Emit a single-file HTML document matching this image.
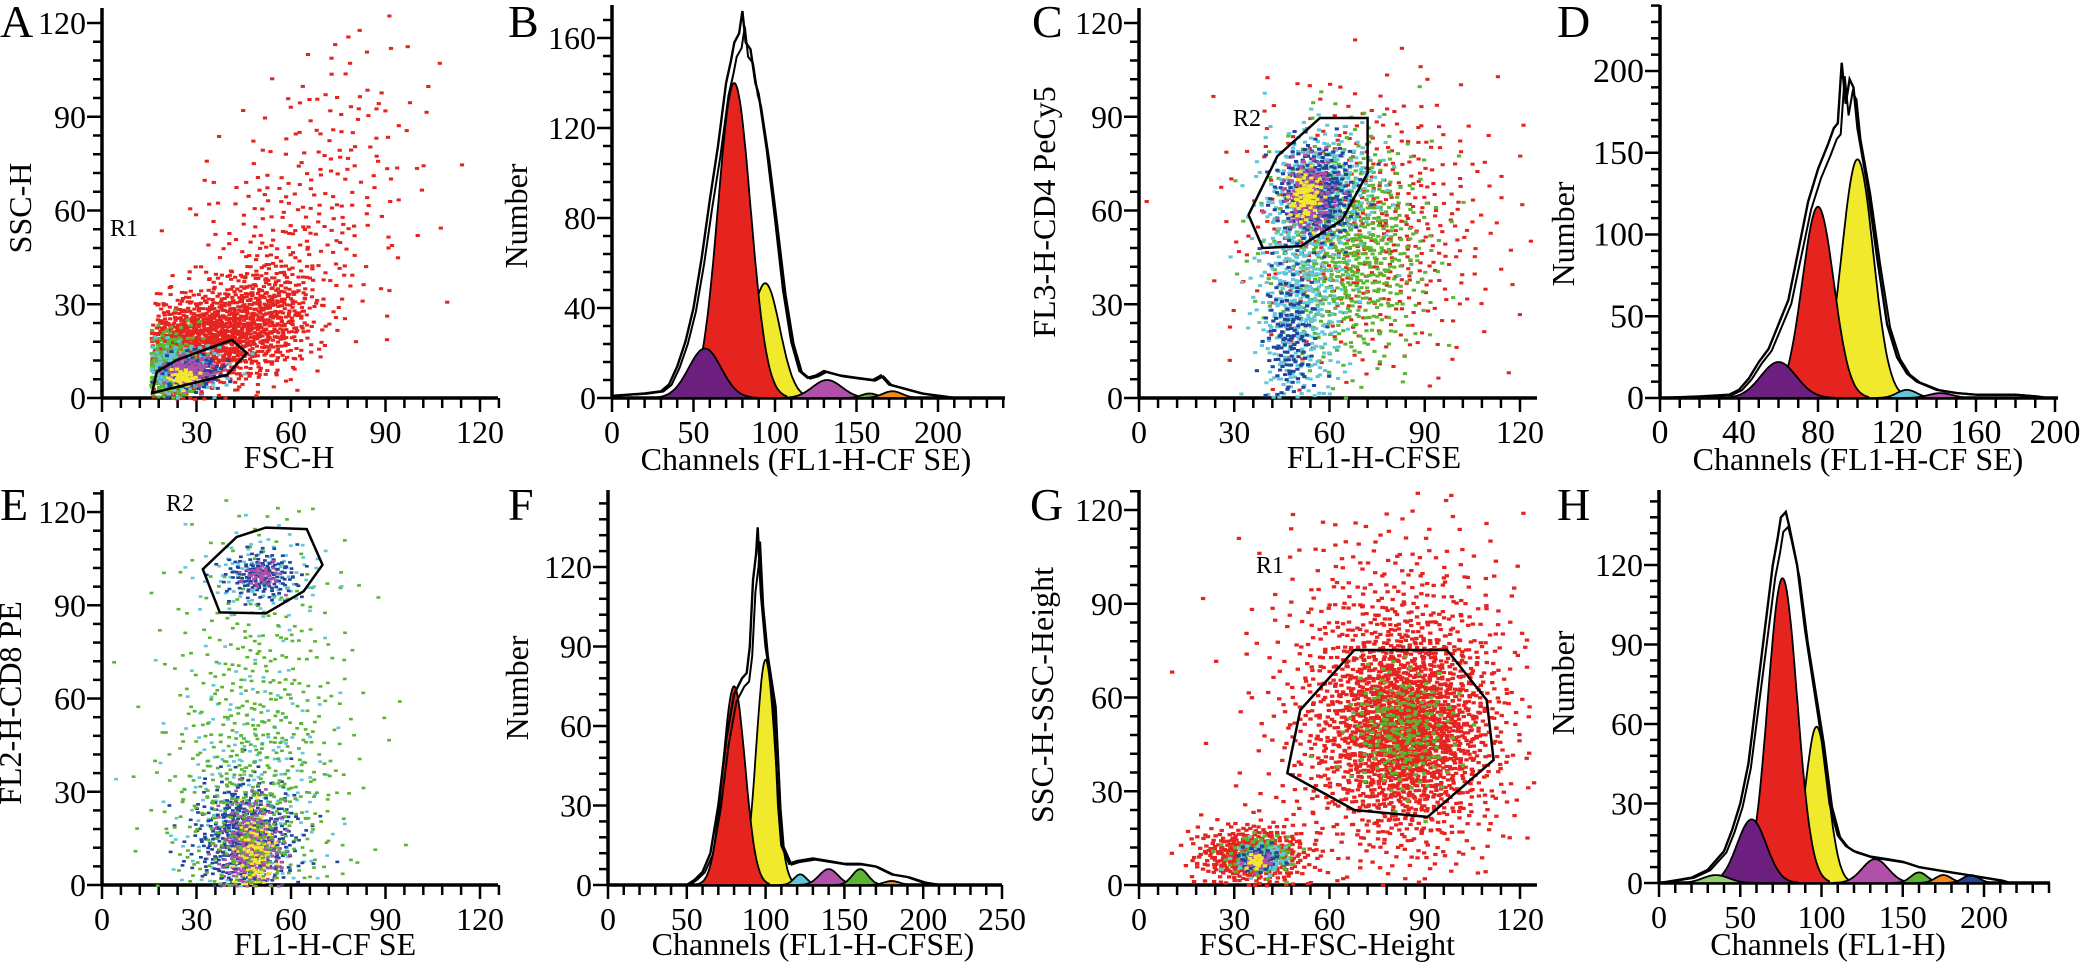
<!DOCTYPE html>
<html><head><meta charset="utf-8">
<style>
html,body{margin:0;padding:0;background:#fff;}
svg{display:block;font-family:"Liberation Serif","DejaVu Serif",serif;}
</style></head>
<body>
<svg id="fig" width="2081" height="965" viewBox="0 0 2081 965" xmlns="http://www.w3.org/2000/svg"></svg>
<script>
// ===== Panel A (scatter FSC-H vs SSC-H) =====
const A_cx=[22,36,52,60,78,21,24,28,27,26,25];
const A_cy=[14,20,27,50,85,10,10,9,9,8,7];
const A_sx=[5,9,8,16,14,5,7,5,4,3,2.5];
const A_sy=[8,8,9,18,20,6,4,3,2.5,2,1.5];
const A_n=[450,650,400,200,90,350,180,130,80,50,40];
const A_col=["red","red","red","red","red","green","cyan","blue","magenta","magenta","yellow"];
const A_gateX=[15.9,17.4,23.8,41.2,46,39.7,22.5];
const A_gateY=[1.6,8.4,12.2,18.6,14.4,7.4,3.2];
// ===== Panel B (histogram) =====
const B_outX=[0,20,30,35,40,45,50,55,60,65,70,73,75,78,80,82,85,88,90,95,100,105,110,115,120,125,130,135,140,150,160,165,170,180,190,200,210];
const B_outY=[1,2,3,6,14,25,40,62,88,112,140,150,158,162,172,158,155,140,135,110,80,48,25,12,9,10,12,11,10,9,8,10,6,4,2,1,0];
const B_center=[94,75,57,132,158,172];
const B_peak=[51,140,22,8,2,3];
const B_width=[9,10,10,9,5,6];
const B_color=["yellow","red","purple","magenta","green","orange"];
// ===== Panel C (scatter FL1 vs FL3) =====
const C_cx=[72,66,50,47,58,55,53,52];
const C_cy=[55,48,33,20,68,66,65,65];
const C_sx=[20,12,7,4,9,6,4,2.5];
const C_sy=[22,18,20,12,9,8,6,4];
const C_n=[500,650,450,150,300,300,160,80];
const C_col=["red","green","cyan","blue","cyan","blue","magenta","yellow"];
const C_gateX=[57,72,72,64,51,39,34.5,43.6];
const C_gateY=[89.6,89.6,72,57,48.6,48,58.6,77.4];
// ===== Panel D (histogram) =====
const D_outX=[0,20,35,40,45,50,55,60,65,70,75,80,85,88,90,92,94,96,98,100,105,110,115,120,125,130,140,150,160,180,190,195];
const D_outY=[0,1,2,5,12,22,30,45,60,90,120,140,155,165,168,205,180,195,190,165,130,85,45,25,15,10,5,3,2,2,1,0];
const D_center=[100,80,60,125,142];
const D_peak=[146,117,22,5,3];
const D_width=[8,8,9,5,6];
const D_color=["yellow","red","purple","cyan","magenta"];
// ===== Panel E (scatter FL1 vs FL2) =====
const E_cx=[46,45,47,48,50,50,50,50,45];
const E_cy=[25,15,12,10,50,100,100,100,20];
const E_sx=[12,8,5,3,15,10,6,3,14];
const E_sy=[25,9,8,7,35,7,4,2,18];
const E_n=[300,550,260,110,450,110,150,40,200];
const E_col=["cyan","blue","magenta","yellow","green","cyan","blue","magenta","green"];
const E_gateX=[42.8,52,65,70,64,52,37.4,32];
const E_gateY=[112,115,114.5,103,94.5,87.4,87.7,101.6];
// ===== Panel F (histogram) =====
const F_outX=[50,55,60,65,70,75,80,85,88,90,92,94,95,97,100,105,108,110,115,120,130,140,150,160,170,180,190,200,210];
const F_outY=[0,2,5,12,30,55,72,78,80,90,115,125,135,110,90,70,30,15,8,9,10,9,8,8,7,4,3,1,0];
const F_center=[100,80,122,140,160,180];
const F_peak=[85,75,4,6,6,1.5];
const F_width=[6,7,4,6,5,5];
const F_color=["yellow","red","cyan","magenta","green","orange"];
// ===== Panel G (scatter FSC vs SSC) =====
const G_cx=[80,84,82,35,38,38,37,37,36];
const G_cy=[58,50,50,10,10,9,9,8,8];
const G_sx=[20,13,8,9,5,4,3,2,1.5];
const G_sy=[28,16,10,5,3,2.5,2,1.5,1.2];
const G_n=[1000,1400,200,450,130,80,60,30,20];
const G_col=["red","red","green","red","green","cyan","blue","magenta","yellow"];
const G_gateX=[67.8,97,109.5,111.7,90.9,67.8,46.7,50.8];
const G_gateY=[75.2,75.2,59.2,40,21.8,24,35.8,56];
// ===== Panel H (histogram) =====
const H_outX=[0,10,20,30,40,45,50,55,60,65,70,73,75,78,80,85,90,95,100,105,110,115,120,130,140,150,160,170,180,190,200,210,215];
const H_outY=[0,1,2,5,12,20,30,45,70,95,120,130,138,140,135,120,95,75,55,30,18,14,12,10,9,8,6,5,4,3,2,1,0];
const H_center=[97,76,57,35,133,160,175,192];
const H_peak=[59,115,24,3,9,4,3,3];
const H_width=[7,9,9,8,8,5,5,5];
const H_color=["yellow","red","purple","lightgreen","magenta","green","orange","blue"];

const PAL={red:"#e52420",yellow:"#f1e92c",purple:"#6d1f7f",magenta:"#b050a8",cyan:"#60c6d8",green:"#5cb531",orange:"#f08a20",blue:"#21449e",lightgreen:"#93d16f"};
const NS="http://www.w3.org/2000/svg";
const svg=document.getElementById("fig");
function el(tag,attrs,parent){const e=document.createElementNS(NS,tag);for(const k in attrs)e.setAttribute(k,attrs[k]);(parent||svg).appendChild(e);return e;}
function lin(d0,p0,per){return v=>p0+(v-d0)*per;}

function axes(g,cfg){
  const X=lin(0,cfg.x0,cfg.xPer), Y=v=>cfg.y0-v*cfg.yPer;
  const fs=cfg.fs||32;
  let ax=el("line",{x1:cfg.x0,y1:cfg.y0,x2:cfg.xEnd,y2:cfg.y0,stroke:"#000","stroke-width":3.5},g);
  
  
  let ay=el("line",{x1:cfg.x0,y1:cfg.y0+1,x2:cfg.x0,y2:cfg.yTop,stroke:"#000","stroke-width":3.5},g);
  
  
  for(let v=0;X(v)<=cfg.xEnd+1;v+=cfg.xMinor){
    const major=cfg.xTicks.some(t=>Math.abs(t-v)<1e-6);
    let t=el("line",{x1:X(v),y1:cfg.y0,x2:X(v),y2:cfg.y0+(major?14:10),stroke:"#000","stroke-width":2.5},g);
    
    
  }
  for(let v=0;Y(v)>=cfg.yTop-1;v+=cfg.yMinor){
    const major=cfg.yTicks.some(t=>Math.abs(t-v)<1e-6);
    let t=el("line",{x1:cfg.x0,y1:Y(v),x2:cfg.x0-(major?15:9),y2:Y(v),stroke:"#000","stroke-width":2.5},g);
    
    
  }
  cfg.xTicks.forEach(v=>{
    let t=el("text",{x:X(v),y:cfg.y0+45,"font-size":fs,"text-anchor":"middle"},g);t.textContent=v;
    
    
  });
  cfg.yTicks.forEach(v=>{
    let t=el("text",{x:cfg.x0-16,y:Y(v)+11,"font-size":fs,"text-anchor":"end"},g);t.textContent=v;
    
    
  });
  let xt=el("text",{x:cfg.xtX,y:cfg.xtY,"font-size":32,"text-anchor":"middle"},g);xt.textContent=cfg.xTitle;
  
  
  let yt=el("text",{x:0,y:0,"font-size":32,"text-anchor":"middle",transform:`translate(${cfg.ytX+11},${cfg.ytY}) rotate(-90)`},g);yt.textContent=cfg.yTitle;
  
  
  let pl=el("text",{x:cfg.lx,y:cfg.ly,"font-size":46},g);pl.textContent=cfg.letter;
  
  
  return {X,Y};
}
function halton(i,b){let f=1,r=0;while(i>0){f/=b;r+=f*(i%b);i=Math.floor(i/b);}return r;}

function scatter(g,cfg,cx,cy,sx,sy,n,col,gx,gy,xmin){
  const {X,Y}=axes(g,cfg);
  let off=7;
  for(let c=0;c<cx.length;c++){
    const dots=el("g",{fill:PAL[col[c]]},g);
    
    
    const sz=cfg.dot||3.4;
    for(let i=0;i<n[c];i++){
      const k=off+i;
      const u1=Math.max(halton(k,2),1e-4),u2=halton(k,3);
      const r=Math.sqrt(-2*Math.log(u1));
      const vx=cx[c]+sx[c]*r*Math.cos(2*Math.PI*u2);
      const vy=cy[c]+sy[c]*r*Math.sin(2*Math.PI*u2);
      if(vx<xmin||vx>cfg.xMax||vy<0||vy>cfg.yMax)continue;
      el("rect",{x:X(vx).toFixed(1),y:Y(vy).toFixed(1),width:sz+0.6,height:sz-0.6},dots);
    }
    off+=n[c]+13;
  }
  const pts=gx.map((v,i)=>X(v).toFixed(1)+","+Y(gy[i]).toFixed(1)).join(" ");
  let gate=el("polygon",{points:pts,fill:"none",stroke:"#000","stroke-width":2.5},g);
  
  
  let gl=el("text",{x:cfg.glx,y:cfg.gly,"font-size":24},g);gl.textContent=cfg.gate;
  
  
}

function histo(g,cfg,ox,oy,cen,pk,wd,colr){
  const {X,Y}=axes(g,cfg);
  for(let c=0;c<cen.length;c++){
    let pts=[];
    const a=cen[c]-3.2*wd[c], b=cen[c]+3.2*wd[c];
    pts.push(X(a).toFixed(1)+","+Y(0).toFixed(1));
    for(let v=a;v<=b;v+=0.5){const y=pk[c]*Math.exp(-0.5*((v-cen[c])/wd[c])**2);pts.push(X(v).toFixed(1)+","+Y(y).toFixed(1));}
    pts.push(X(b).toFixed(1)+","+Y(0).toFixed(1));
    let p=el("polygon",{points:pts.join(" "),fill:PAL[colr[c]],stroke:"#000","stroke-width":1.8},g);
    
    
  }
  let p1=[],p2=[];
  for(let i=0;i<ox.length;i++){
    p1.push(X(ox[i]).toFixed(1)+","+Y(oy[i]).toFixed(1));
    p2.push(X(ox[i]+1.5).toFixed(1)+","+Y(oy[i]*0.96).toFixed(1));
  }
  let l2=el("polyline",{points:p2.join(" "),fill:"none",stroke:"#000","stroke-width":2},g);
  
  
  let l1=el("polyline",{points:p1.join(" "),fill:"none",stroke:"#000","stroke-width":2.4},g);
  
  
}

function panel(name){const g=el("g",{});return g;}

scatter(panel('panel-a'),{dot:3.6,x0:102,xPer:3.15,y0:398,yPer:3.125,xEnd:498,yTop:8,xMax:120,yMax:124,xMinor:6,yMinor:6,xTicks:[0,30,60,90,120],yTicks:[0,30,60,90,120],xTitle:"FSC-H",xtX:289,xtY:468,yTitle:"SSC-H",ytX:20,ytY:208,letter:"A",lx:0,ly:37,gate:"R1",glx:110,gly:236},A_cx,A_cy,A_sx,A_sy,A_n,A_col,A_gateX,A_gateY,15);
histo(panel('panel-b'),{x0:612,xPer:1.63,y0:398,yPer:2.25,xEnd:1005,yTop:5,xMinor:10,yMinor:8,xTicks:[0,50,100,150,200],yTicks:[0,40,80,120,160],xTitle:"Channels (FL1-H-CF SE)",xtX:806,xtY:470,yTitle:"Number",ytX:516,ytY:216,letter:"B",lx:508,ly:37},B_outX,B_outY,B_center,B_peak,B_width,B_color);
scatter(panel('panel-c'),{dot:3.6,x0:1139,xPer:3.175,y0:398,yPer:3.125,xEnd:1537,yTop:8,xMax:124,yMax:124,xMinor:6,yMinor:6,xTicks:[0,30,60,90,120],yTicks:[0,30,60,90,120],xTitle:"FL1-H-CFSE",xtX:1374,xtY:468,yTitle:"FL3-H-CD4 PeCy5",ytX:1044,ytY:212,letter:"C",lx:1032,ly:37,gate:"R2",glx:1233,gly:126},C_cx,C_cy,C_sx,C_sy,C_n,C_col,C_gateX,C_gateY,0);
histo(panel('panel-d'),{x0:1660,xPer:1.975,y0:398,yPer:1.635,xEnd:2058,yTop:5,xMinor:10,yMinor:10,fs:34,xTicks:[0,40,80,120,160,200],yTicks:[0,50,100,150,200],xTitle:"Channels (FL1-H-CF SE)",xtX:1858,xtY:470,yTitle:"Number",ytX:1563,ytY:234,letter:"D",lx:1557,ly:37},D_outX,D_outY,D_center,D_peak,D_width,D_color);
scatter(panel('panel-e'),{dot:3.2,x0:102,xPer:3.15,y0:885,yPer:3.108,xEnd:498,yTop:490,xMax:124,yMax:126,xMinor:6,yMinor:6,xTicks:[0,30,60,90,120],yTicks:[0,30,60,90,120],xTitle:"FL1-H-CF SE",xtX:325,xtY:955,yTitle:"FL2-H-CD8 PE",ytX:10,ytY:703,letter:"E",lx:0,ly:520,gate:"R2",glx:166,gly:511},E_cx,E_cy,E_sx,E_sy,E_n,E_col,E_gateX,E_gateY,0);
histo(panel('panel-f'),{x0:608,xPer:1.576,y0:885,yPer:2.65,xEnd:1002,yTop:490,xMinor:10,yMinor:6,xTicks:[0,50,100,150,200,250],yTicks:[0,30,60,90,120],xTitle:"Channels (FL1-H-CFSE)",xtX:813,xtY:955,yTitle:"Number",ytX:517,ytY:688,letter:"F",lx:508,ly:520},F_outX,F_outY,F_center,F_peak,F_width,F_color);
scatter(panel('panel-g'),{dot:3.8,x0:1139,xPer:3.175,y0:885,yPer:3.125,xEnd:1537,yTop:490,xMax:124,yMax:126,xMinor:6,yMinor:6,xTicks:[0,30,60,90,120],yTicks:[0,30,60,90,120],xTitle:"FSC-H-FSC-Height",xtX:1327,xtY:955,yTitle:"SSC-H-SSC-Height",ytX:1042,ytY:695,letter:"G",lx:1030,ly:520,gate:"R1",glx:1256,gly:573},G_cx,G_cy,G_sx,G_sy,G_n,G_col,G_gateX,G_gateY,5);
histo(panel('panel-h'),{x0:1659,xPer:1.625,y0:883,yPer:2.65,xEnd:2050,yTop:490,xMinor:10,yMinor:6,xTicks:[0,50,100,150,200],yTicks:[0,30,60,90,120],xTitle:"Channels (FL1-H)",xtX:1828,xtY:955,yTitle:"Number",ytX:1563,ytY:683,letter:"H",lx:1557,ly:520},H_outX,H_outY,H_center,H_peak,H_width,H_color);
</script>
</body></html>
